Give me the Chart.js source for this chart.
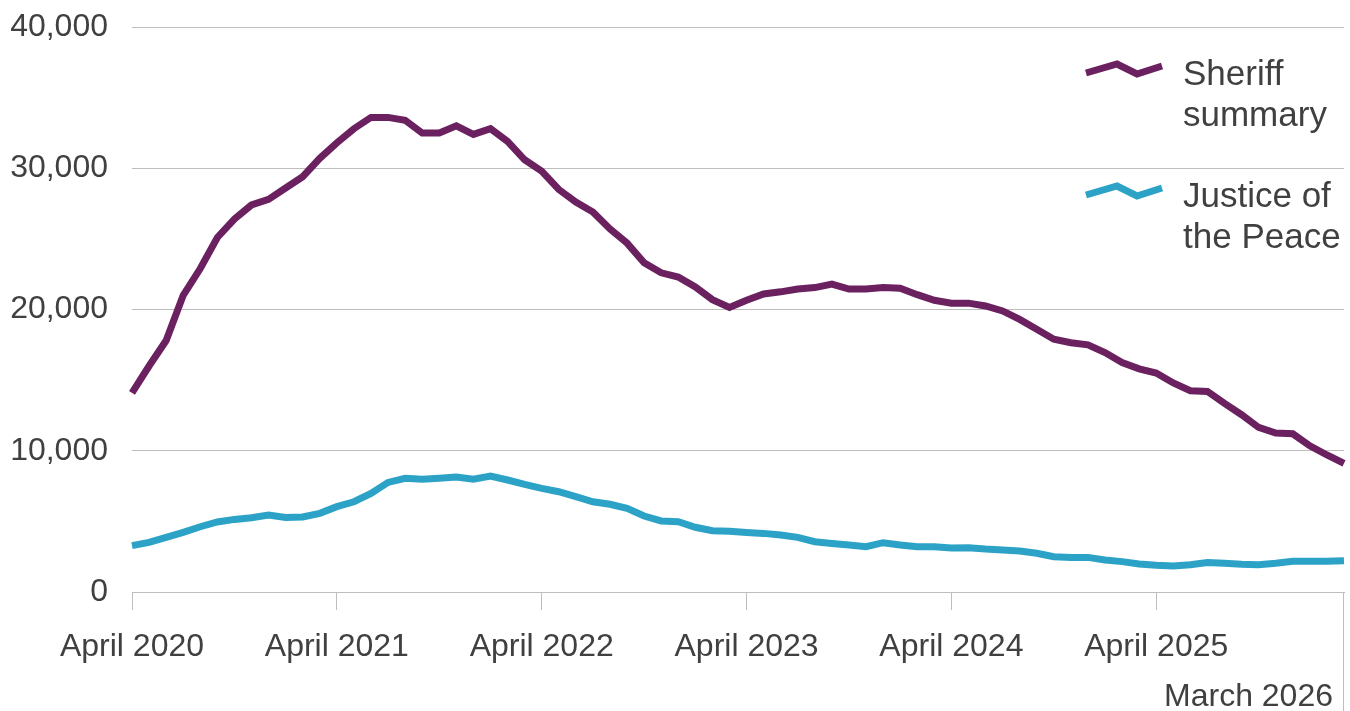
<!DOCTYPE html>
<html>
<head>
<meta charset="utf-8">
<script src="https://cdn.jsdelivr.net/npm/chart.js@4"></script>
<style>
  html, body { margin: 0; padding: 0; background: #fff; }
  #wrap { width: 1350px; height: 711px; position: relative; }
</style>
</head>
<body>
<div id="wrap"><canvas id="grafico"></canvas></div>
<script>
// ============================
// Dados
// ============================
const primeiroMes = 'April 2020';
const ultimoMes = 'March 2026';
const rotulosAbril = ['April 2020', 'April 2021', 'April 2022', 'April 2023', 'April 2024', 'April 2025'];
const ticksY = [0, 10000, 20000, 30000, 40000];

const nomesSeries = [['Sheriff', 'summary'], ['Justice of', 'the Peace']];
const coresSeries = ['#6b2160', '#2ca3c6'];

const sheriff = [
  14100, 16000, 17800, 21000, 22900, 25100, 26400, 27400, 27800, 28600,
  29400, 30700, 31800, 32800, 33600, 33600, 33400, 32500, 32500, 33000,
  32400, 32800, 31900, 30600, 29800, 28500, 27600, 26900, 25700, 24700,
  23300, 22600, 22300, 21600, 20700, 20150, 20650, 21100, 21250, 21450,
  21550, 21800, 21450, 21450, 21550, 21500, 21050, 20650, 20450, 20450,
  20250, 19900, 19300, 18600, 17900, 17650, 17500, 16950, 16250, 15800,
  15500, 14800, 14250, 14200, 13350, 12550, 11650, 11250, 11200, 10350,
  9700, 9100
];

const justica = [
  3280, 3510, 3870, 4220, 4620, 4960, 5140, 5260, 5450, 5280,
  5310, 5570, 6040, 6390, 6980, 7760, 8050, 7980, 8050, 8140,
  7980, 8210, 7930, 7620, 7340, 7100, 6750, 6390, 6210, 5920,
  5380, 5030, 4980, 4580, 4340, 4300, 4220, 4150, 4040, 3870,
  3560, 3440, 3330, 3210, 3490, 3330, 3210, 3210, 3120, 3140,
  3040, 2970, 2900, 2740, 2500, 2450, 2450, 2270, 2150, 1980,
  1890, 1840, 1930, 2080, 2030, 1960, 1930, 2030, 2170, 2170,
  2170, 2220
];

// rótulos mensais: April 2020 ... March 2026
const nomesMes = ['January', 'February', 'March', 'April', 'May', 'June', 'July',
  'August', 'September', 'October', 'November', 'December'];
const meses = [];
for (let i = 0; i < sheriff.length; i++) {
  const m = (3 + i) % 12;
  const a = 2020 + Math.floor((3 + i) / 12);
  meses.push(nomesMes[m] + ' ' + a);
}

const corTexto = '#404040';
const corGrade = '#bdbdbd';
const fonte = "'Liberation Sans', Arial, sans-serif";

// ============================
// Plugin: legenda + rótulo final
// ============================
const extras = {
  id: 'extras',
  afterDraw(chart) {
    const ctx = chart.ctx;
    const area = chart.chartArea;
    const xs = chart.scales.x;

    // linha final (March 2026) descendo até o rodapé
    const xFim = xs.getPixelForValue(meses.length - 1);
    ctx.save();
    ctx.strokeStyle = corGrade;
    ctx.lineWidth = 1;
    ctx.beginPath();
    ctx.moveTo(Math.round(xFim) - 0.5, area.bottom);
    ctx.lineTo(Math.round(xFim) - 0.5, chart.height);
    ctx.stroke();

    ctx.fillStyle = corTexto;
    ctx.font = '32px ' + fonte;
    ctx.textAlign = 'right';
    ctx.textBaseline = 'alphabetic';
    ctx.fillText(ultimoMes, xFim - 11, 706);

    // legenda com ícone em zigue-zague
    const topos = [66, 188];
    nomesSeries.forEach((nome, i) => {
      const y0 = topos[i];
      ctx.strokeStyle = coresSeries[i];
      ctx.lineWidth = 7;
      ctx.lineJoin = 'miter';
      ctx.beginPath();
      ctx.moveTo(1086, y0 + 7);
      ctx.lineTo(1117, y0 - 2);
      ctx.lineTo(1137, y0 + 8);
      ctx.lineTo(1162, y0);
      ctx.stroke();

      ctx.fillStyle = corTexto;
      ctx.font = '35px ' + fonte;
      ctx.textAlign = 'left';
      ctx.fillText(nome[0], 1183, y0 + 19);
      ctx.fillText(nome[1], 1183, y0 + 60);
    });
    ctx.restore();
  }
};

// ============================
// Gráfico
// ============================
const ctxGrafico = document.getElementById('grafico').getContext('2d');
const grafico = new Chart(ctxGrafico, {
  type: 'line',
  data: {
    labels: meses,
    datasets: [
      {
        label: nomesSeries[0].join(' '),
        data: sheriff,
        borderColor: coresSeries[0],
        borderWidth: 7,
        pointRadius: 0,
        tension: 0,
        fill: false
      },
      {
        label: nomesSeries[1].join(' '),
        data: justica,
        borderColor: coresSeries[1],
        borderWidth: 7,
        pointRadius: 0,
        tension: 0,
        fill: false
      }
    ]
  },
  options: {
    responsive: true,
    maintainAspectRatio: false,
    animation: false,
    layout: { padding: { top: 27, right: 6, left: 0, bottom: 0 } },
    plugins: {
      legend: { display: false },
      tooltip: { enabled: false }
    },
    scales: {
      x: {
        afterFit: s => {
          s.height = 119;
          s.paddingLeft = 0;
          s.paddingRight = 0;
        },
        border: { display: true, color: corGrade, width: 1 },
        grid: {
          drawOnChartArea: false,
          drawTicks: true,
          tickLength: 18,
          color: c => rotulosAbril.includes(meses[c.index]) ? corGrade : 'rgba(0,0,0,0)'
        },
        ticks: {
          autoSkip: false,
          maxRotation: 0,
          padding: 18,
          color: corTexto,
          font: { family: fonte, size: 32 },
          callback: (v, i) => rotulosAbril.includes(meses[i]) ? meses[i] : ''
        }
      },
      y: {
        min: ticksY[0],
        max: ticksY[ticksY.length - 1],
        afterFit: s => {
          s.width = 132;
          s.paddingTop = 0;
          s.paddingBottom = 0;
        },
        afterBuildTicks: s => { s.ticks = ticksY.map(v => ({ value: v })); },
        border: { display: false },
        grid: { color: corGrade, drawTicks: false, lineWidth: 1 },
        ticks: {
          padding: 24,
          color: corTexto,
          font: { family: fonte, size: 32 },
          callback: v => v.toLocaleString('en-GB')
        }
      }
    }
  },
  plugins: [extras]
});
</script>
</body>
</html>
